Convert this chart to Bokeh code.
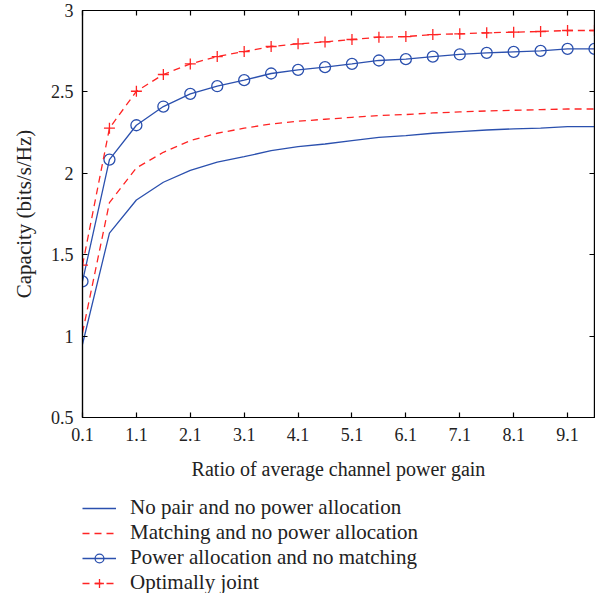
from bokeh.plotting import figure
from bokeh.layouts import column
from bokeh.models import Legend, LegendItem, LinearAxis, FixedTicker, Range1d
from bokeh.embed import file_html
from bokeh.resources import INLINE

x = [0.1, 0.6, 1.1, 1.6, 2.1, 2.6, 3.1, 3.6, 4.1, 4.6,
     5.1, 5.6, 6.1, 6.6, 7.1, 7.6, 8.1, 8.6, 9.1, 9.6]
no_pair = [0.95, 1.633, 1.836, 1.945, 2.018, 2.068, 2.102, 2.139, 2.164, 2.180,
           2.201, 2.221, 2.232, 2.246, 2.256, 2.266, 2.273, 2.277, 2.287, 2.287]
matching = [1.02, 1.82, 2.033, 2.129, 2.201, 2.246, 2.277, 2.303, 2.320, 2.332,
            2.344, 2.355, 2.361, 2.371, 2.377, 2.383, 2.387, 2.391, 2.395, 2.395]
power_alloc = [1.336, 2.084, 2.295, 2.410, 2.488, 2.535, 2.572, 2.613, 2.635, 2.652,
               2.672, 2.693, 2.701, 2.717, 2.730, 2.740, 2.746, 2.752, 2.764, 2.764]
joint = [1.436, 2.277, 2.504, 2.607, 2.672, 2.717, 2.748, 2.779, 2.795, 2.807,
         2.822, 2.836, 2.840, 2.852, 2.857, 2.863, 2.867, 2.871, 2.877, 2.877]

series_names = ["No pair and no power allocation", "Matching and no power allocation",
                "Power allocation and no matching", "Optimally joint"]
x_ticks = [0.1, 1.1, 2.1, 3.1, 4.1, 5.1, 6.1, 7.1, 8.1, 9.1]
x_tick_labels = ["0.1", "1.1", "2.1", "3.1", "4.1", "5.1", "6.1", "7.1", "8.1", "9.1"]
y_ticks = [0.5, 1, 1.5, 2, 2.5, 3]
y_tick_labels = ["0.5", "1", "1.5", "2", "2.5", "3"]

BLUE = "#2b50ae"
RED = "#ff2424"
FONT = "Liberation Serif"

p = figure(width=595, height=484, output_backend="svg", toolbar_location=None,
           x_range=Range1d(0.1, 9.6), y_range=Range1d(0.5, 3),
           min_border_left=82, min_border_right=1, min_border_top=10, min_border_bottom=67)
p.grid.visible = False
p.outline_line_color = "black"
p.outline_line_width = 1.2
p.background_fill_color = "white"

def style_axis(ax, ticks, labels, show_labels=True):
    ax.ticker = FixedTicker(ticks=ticks)
    ax.major_label_overrides = {t: (l if show_labels else "") for t, l in zip(ticks, labels)}
    ax.major_tick_in = 5
    ax.major_tick_out = 0
    ax.minor_tick_in = 0
    ax.minor_tick_out = 0
    ax.axis_line_color = "black"
    ax.axis_line_width = 1.2
    ax.major_tick_line_width = 1.2
    ax.major_label_text_font = FONT
    ax.major_label_text_font_size = "18px"
    ax.major_label_text_color = "#222222"
    ax.axis_label_text_font = FONT
    ax.axis_label_text_font_size = "20px"
    ax.axis_label_text_font_style = "normal"
    ax.axis_label_text_color = "#222222"

style_axis(p.xaxis[0], x_ticks, x_tick_labels)
style_axis(p.yaxis[0], y_ticks, y_tick_labels)
p.xaxis[0].axis_label = "Ratio of average channel power gain"
p.yaxis[0].axis_label = "Capacity (bits/s/Hz)"
p.yaxis[0].axis_label_text_font_size = "21px"
p.xaxis[0].major_label_standoff = 10
p.yaxis[0].major_label_standoff = 9
p.xaxis[0].axis_label_standoff = 14
p.yaxis[0].axis_label_standoff = 12

top_ax = LinearAxis()
style_axis(top_ax, x_ticks, x_tick_labels, show_labels=False)
top_ax.major_label_standoff = 0
p.add_layout(top_ax, "above")
right_ax = LinearAxis()
style_axis(right_ax, y_ticks, y_tick_labels, show_labels=False)
right_ax.major_label_standoff = 0
p.add_layout(right_ax, "right")

def draw_series(fig, msize):
    r1 = fig.line(x, no_pair, line_color=BLUE, line_width=1.3)
    r2 = fig.line(x, matching, line_color=RED, line_width=1.3, line_dash="7 5")
    r3 = fig.line(x, power_alloc, line_color=BLUE, line_width=1.3)
    r3m = fig.scatter(x, power_alloc, marker="circle", size=msize, line_color=BLUE,
                      fill_color=None, line_width=1.3)
    r4 = fig.line(x, joint, line_color=RED, line_width=1.3, line_dash="7 5")
    r4m = fig.scatter(x, joint, marker="cross", size=msize, line_color=RED, line_width=1.3)
    return [[r1], [r2], [r3, r3m], [r4, r4m]]

draw_series(p, 11)

# legend figure below the chart (its own copies of the series sit out of view)
lg = figure(width=595, height=109, output_backend="svg", toolbar_location=None,
            x_range=Range1d(100, 101), y_range=Range1d(100, 101),
            min_border=0, x_axis_location=None, y_axis_location=None)
lg.grid.visible = False
lg.outline_line_color = None
lg_renderers = draw_series(lg, 7)

legend = Legend(items=[LegendItem(label=name, renderers=rs)
                       for name, rs in zip(series_names, lg_renderers)],
                location=(0, -2))
legend.padding = 0
legend.margin = 0
legend.spacing = 0
legend.label_height = 22
legend.glyph_height = 22
legend.glyph_width = 34
legend.label_standoff = 14
legend.label_text_font = FONT
legend.label_text_font_size = "21px"
legend.label_text_color = "#222222"
legend.border_line_color = None
legend.background_fill_alpha = 0
lg.add_layout(legend)

layout = column(p, lg, spacing=0)
open("out.html", "w").write(file_html(layout, INLINE))
